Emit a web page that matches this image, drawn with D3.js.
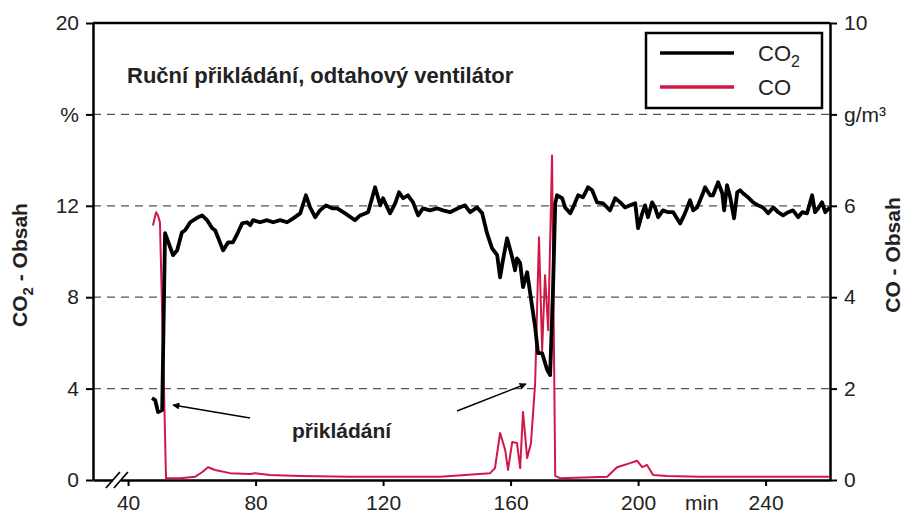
<!DOCTYPE html>
<html>
<head>
<meta charset="utf-8">
<script src="https://cdn.jsdelivr.net/npm/d3@7"></script>
<style>
  body { margin: 0; background: #fff; }
  text { font-family: "Liberation Sans", Arial, sans-serif; }
</style>
</head>
<body>
<div id="chart"></div>
<script>
var svgWidth = 912;
var svgHeight = 519;

var margin = { top: 23, right: 82, bottom: 39, left: 93 };
var width = svgWidth - margin.left - margin.right;
var height = svgHeight - margin.top - margin.bottom;

// CO2 trace (minutes, %)
var co2Minutes = [47.5, 48.5, 49.4, 50.7, 51.6, 54.1, 55.4, 56.9, 57.9, 59.5, 62.0, 63.2, 64.8, 66.4, 67.3, 68.2, 69.8, 71.4, 72.9, 74.5,
  75.8, 77.3, 78.3, 79.2, 81.4, 83.6, 85.5, 87.7, 89.9, 91.8, 94.0, 95.8, 97.1, 98.7, 100.2, 102.1, 104.0, 105.6, 108.1, 111.2,
  112.8, 115.3, 117.5, 119.1, 120.0, 121.3, 122.2, 123.8, 125.0, 126.3, 127.8, 129.4, 131.0, 132.5, 134.7, 136.9, 138.8, 141.0, 143.5, 145.7,
  147.3, 149.5, 151.1, 152.6, 154.2, 155.8, 156.7, 157.6, 158.9, 160.5, 161.4, 162.0, 163.0, 163.9, 165.2, 166.1, 167.7, 168.6, 169.9, 171.5,
  172.4, 173.3, 174.0, 174.6, 176.2, 177.1, 178.7, 179.6, 181.2, 182.7, 184.3, 185.6, 187.1, 189.0, 191.2, 192.8, 194.4, 195.9, 197.5, 199.1,
  200.0, 201.3, 202.2, 203.1, 204.4, 205.3, 206.3, 207.8, 209.4, 211.0, 213.2, 214.7, 216.3, 217.3, 218.5, 220.1, 221.0, 222.6, 223.5, 225.1,
  226.4, 227.0, 227.9, 228.9, 230.1, 231.1, 232.0, 232.9, 234.5, 236.1, 237.6, 239.2, 240.8, 242.4, 243.9, 245.5, 247.1, 248.6, 250.2, 251.5,
  253.0, 254.6, 255.5, 256.5, 257.7, 258.7, 260.2];
var co2Percent = [3.58, 3.5, 2.97, 3.06, 10.8, 9.84, 10.05, 10.84, 10.93, 11.28, 11.5, 11.58, 11.37, 11.02, 10.93, 10.62, 10.05, 10.4, 10.4, 10.84,
  11.23, 11.28, 11.15, 11.37, 11.28, 11.37, 11.28, 11.37, 11.28, 11.45, 11.67, 12.46, 11.93, 11.5, 11.8, 12.02, 11.89, 11.89, 11.67, 11.37,
  11.58, 11.72, 12.81, 12.02, 12.33, 11.93, 11.67, 12.11, 12.59, 12.33, 12.46, 12.15, 11.58, 11.89, 11.8, 11.89, 11.8, 11.72, 11.89, 12.02,
  11.72, 11.93, 11.67, 10.8, 10.14, 9.84, 8.87, 9.62, 10.58, 9.75, 9.18, 9.7, 9.49, 8.44, 9.09, 8.22, 6.69, 5.55, 5.55, 4.81,
  4.59, 8.31, 12.11, 12.46, 12.33, 11.93, 11.67, 11.93, 12.46, 12.37, 12.81, 12.68, 12.15, 12.11, 11.8, 12.33, 12.15, 11.93, 12.02, 12.11,
  11.02, 11.67, 12.02, 11.5, 12.15, 11.93, 11.5, 11.8, 11.72, 11.72, 11.23, 11.67, 12.24, 11.8, 11.93, 12.46, 12.81, 12.46, 12.46, 13.03,
  12.55, 11.8, 12.9, 12.37, 11.45, 12.59, 12.68, 12.55, 12.37, 12.15, 12.02, 11.93, 11.67, 11.93, 11.72, 11.58, 11.72, 11.8, 11.5, 11.72,
  11.67, 12.46, 11.72, 11.89, 12.15, 11.72, 11.93];

// CO trace (minutes, g/m3)
var coMinutes = [47.8, 48.8, 49.4, 50.0, 51.0, 51.9, 56.3, 61.0, 63.2, 65.1, 67.3, 72.0, 78.3, 79.8, 84.5, 94.0, 109.6, 125.3, 137.9, 153.6,
  155.1, 156.7, 158.3, 159.2, 160.5, 162.0, 163.0, 163.9, 165.2, 166.4, 167.7, 168.9, 169.9, 170.8, 171.8, 173.0, 174.0, 175.5, 190.3, 193.4,
  197.5, 199.7, 201.3, 202.8, 204.7, 209.1, 219.5, 235.1, 260.2];
var coGm3 = [5.57, 5.86, 5.79, 5.64, 2.84, 0.04, 0.04, 0.07, 0.17, 0.28, 0.22, 0.15, 0.13, 0.15, 0.11, 0.09, 0.07, 0.07, 0.07, 0.15,
  0.26, 1.03, 0.66, 0.22, 0.83, 0.81, 0.26, 1.49, 0.48, 0.81, 2.12, 5.31, 2.84, 4.48, 3.28, 7.1, 0.09, 0.04, 0.07, 0.28,
  0.37, 0.42, 0.28, 0.33, 0.11, 0.09, 0.07, 0.07, 0.07];

var xTicks = [40, 80, 120, 160, 200, 240];
var leftTicks = [0, 4, 8, 12, 16, 20];
var leftTickLabels = ["0", "4", "8", "12", "%", "20"];
var rightTicks = [0, 2, 4, 6, 8, 10];
var rightTickLabels = ["0", "2", "4", "6", "g/m³", "10"];
var gridLevels = [4, 8, 12, 16];

var co2Color = "#000";
var coColor = "#d01848";

var svg = d3.select("#chart")
  .append("svg")
  .attr("width", svgWidth)
  .attr("height", svgHeight);

var chart = svg.append("g")
  .attr("transform", `translate(${margin.left}, ${margin.top})`);

var xScale = d3.scaleLinear().domain([29, 260.2]).range([0, width]);
var yLeft = d3.scaleLinear().domain([0, 20]).range([height, 0]);
var yRight = d3.scaleLinear().domain([0, 10]).range([height, 0]);

// dashed grid
chart.append("g")
  .selectAll("line")
  .data(gridLevels)
  .enter()
  .append("line")
  .attr("x1", 0)
  .attr("x2", width)
  .attr("y1", d => yLeft(d))
  .attr("y2", d => yLeft(d))
  .attr("stroke", "#555")
  .attr("stroke-width", 1.3)
  .attr("stroke-dasharray", "8,6");

// axes
var bottomAxis = d3.axisBottom(xScale).tickValues(xTicks).tickSize(6).tickSizeOuter(0);
var leftAxis = d3.axisLeft(yLeft).tickValues(leftTicks).tickSize(7).tickSizeOuter(0)
  .tickFormat((d, i) => leftTickLabels[i]);
var rightAxis = d3.axisRight(yRight).tickValues(rightTicks).tickSize(7).tickSizeOuter(0)
  .tickFormat((d, i) => rightTickLabels[i]);

function styleAxis(g) {
  g.select(".domain").attr("stroke", "#000").attr("stroke-width", 2.5);
  g.selectAll(".tick line").attr("stroke", "#000").attr("stroke-width", 2);
  g.selectAll(".tick text")
    .attr("font-size", "21px")
    .attr("fill", "#222")
    .style("font-family", "'Liberation Sans', Arial, sans-serif");
}

chart.append("g")
  .attr("transform", `translate(0, ${height})`)
  .call(bottomAxis)
  .call(styleAxis)
  .call(g => g.selectAll(".tick text").attr("dy", "1.0em"));

chart.append("g")
  .call(leftAxis)
  .call(styleAxis)
  .call(g => g.selectAll(".tick text").attr("x", -14));

chart.append("g")
  .attr("transform", `translate(${width}, 0)`)
  .call(rightAxis)
  .call(styleAxis)
  .call(g => g.selectAll(".tick text").attr("x", 14));

// top frame line
chart.append("line")
  .attr("x1", 0).attr("x2", width)
  .attr("y1", 0).attr("y2", 0)
  .attr("stroke", "#000").attr("stroke-width", 2.5);

// axis break marks
var breakX = xScale(36.5);
chart.append("rect")
  .attr("x", breakX - 4).attr("y", height - 4)
  .attr("width", 8).attr("height", 8)
  .attr("fill", "#fff");
chart.append("g")
  .selectAll("line")
  .data([-4, 4])
  .enter()
  .append("line")
  .attr("x1", d => breakX + d - 7).attr("y1", height + 8)
  .attr("x2", d => breakX + d + 7).attr("y2", height - 8)
  .attr("stroke", "#000").attr("stroke-width", 1.8);

// series
var co2Data = co2Minutes.map((t, i) => [t, co2Percent[i]]);
var coData = coMinutes.map((t, i) => [t, coGm3[i]]);

chart.append("path")
  .datum(coData)
  .attr("fill", "none")
  .attr("stroke", coColor)
  .attr("stroke-width", 2)
  .attr("stroke-linejoin", "round")
  .attr("d", d3.line().x(d => xScale(d[0])).y(d => yRight(d[1])));

chart.append("path")
  .datum(co2Data)
  .attr("fill", "none")
  .attr("stroke", co2Color)
  .attr("stroke-width", 3.8)
  .attr("stroke-linejoin", "round")
  .attr("d", d3.line().x(d => xScale(d[0])).y(d => yLeft(d[1])));

// title
chart.append("text")
  .attr("x", 34)
  .attr("y", 60)
  .attr("font-size", "22px")
  .attr("font-weight", "bold")
  .attr("fill", "#222")
  .text("Ruční přikládání, odtahový ventilátor");

// legend
var legend = chart.append("g").attr("transform", `translate(${646 - margin.left}, ${33 - margin.top})`);
legend.append("rect")
  .attr("width", 176).attr("height", 75)
  .attr("fill", "#fff")
  .attr("stroke", "#000").attr("stroke-width", 2.5);
var legendItems = [{ name: "CO", sub: "2", color: co2Color, y: 20 }, { name: "CO", sub: "", color: coColor, y: 54 }];
legendItems.forEach(function(item) {
  legend.append("line")
    .attr("x1", 14).attr("x2", 88)
    .attr("y1", item.y).attr("y2", item.y)
    .attr("stroke", item.color).attr("stroke-width", 3.5);
  var t = legend.append("text")
    .attr("x", 112).attr("y", item.y + 8)
    .attr("font-size", "22px")
    .attr("fill", "#222")
    .text(item.name);
  if (item.sub) {
    t.append("tspan").attr("dy", 6).attr("font-size", "16px").text(item.sub);
  }
});

// x unit
chart.append("text")
  .attr("x", xScale(220))
  .attr("y", height + 30)
  .attr("text-anchor", "middle")
  .attr("font-size", "21px")
  .attr("fill", "#222")
  .text("min");

// axis titles
var leftTitle = svg.append("text")
  .attr("transform", "translate(27, 265) rotate(-90)")
  .attr("text-anchor", "middle")
  .attr("font-size", "21px")
  .attr("font-weight", "bold")
  .attr("fill", "#222");
leftTitle.append("tspan").text("CO");
leftTitle.append("tspan").attr("dy", 6).attr("font-size", "15px").text("2");
leftTitle.append("tspan").attr("dy", -6).text(" - Obsah");

svg.append("text")
  .attr("transform", "translate(900, 255) rotate(-90)")
  .attr("text-anchor", "middle")
  .attr("font-size", "21px")
  .attr("font-weight", "bold")
  .attr("fill", "#222")
  .text("CO - Obsah");

// annotation
chart.append("text")
  .attr("x", 292 - margin.left)
  .attr("y", 438 - margin.top)
  .attr("font-size", "21px")
  .attr("font-weight", "bold")
  .attr("fill", "#222")
  .text("přikládání");

svg.append("defs").append("marker")
  .attr("id", "arrow")
  .attr("viewBox", "0 0 10 10")
  .attr("refX", 9).attr("refY", 5)
  .attr("markerWidth", 10).attr("markerHeight", 7)
  .attr("markerUnits", "userSpaceOnUse")
  .attr("orient", "auto")
  .append("path")
  .attr("d", "M0,0 L10,5 L0,10 Z")
  .attr("fill", "#000");

var arrows = [[250, 418, 173, 405], [457, 411, 526, 384]];
chart.append("g")
  .selectAll("line")
  .data(arrows)
  .enter()
  .append("line")
  .attr("x1", d => d[0] - margin.left).attr("y1", d => d[1] - margin.top)
  .attr("x2", d => d[2] - margin.left).attr("y2", d => d[3] - margin.top)
  .attr("stroke", "#000").attr("stroke-width", 1.5)
  .attr("marker-end", "url(#arrow)");
</script>
</body>
</html>
